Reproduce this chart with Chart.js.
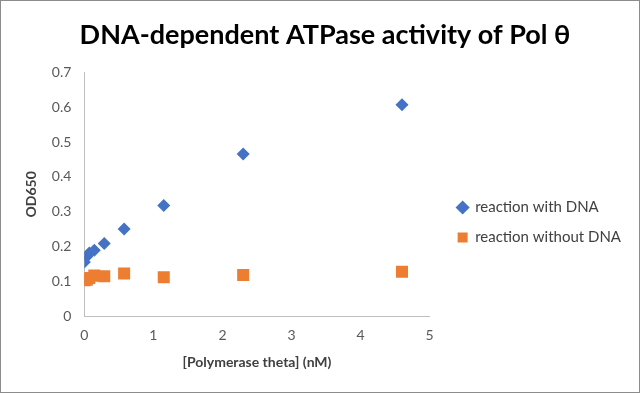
<!DOCTYPE html>
<html><head><meta charset="utf-8">
<script src="https://cdn.jsdelivr.net/npm/chart.js@4"></script>
<style>
html,body{margin:0;padding:0;background:#fff;}
#wrap{position:relative;width:640px;height:393px;box-sizing:border-box;border:1px solid #8c8c8c;}
canvas{display:block;}
</style></head>
<body><div id="wrap"><canvas id="c" width="638" height="391"></canvas></div>
<script>
const concentrations = [0, 0.036, 0.072, 0.144, 0.288, 0.576, 1.15, 2.3, 4.6];
const withDNA = [0.156, 0.172, 0.182, 0.19, 0.209, 0.251, 0.318, 0.466, 0.607];
const withoutDNA = [0.104, 0.105, 0.11, 0.117, 0.115, 0.123, 0.112, 0.119, 0.128];
const seriesNames = ['reaction with DNA', 'reaction without DNA'];
const titleText = 'DNA-dependent ATPase activity of Pol \u03B8';
const xTitle = '[Polymerase theta] (nM)';
const yTitle = 'OD650';

const toPts = (xs, ys) => xs.map((x, i) => ({x: x, y: ys[i]}));
const font = "Lato, 'Open Sans', sans-serif";

function draw() {
  Chart.defaults.font.family = font;
  Chart.defaults.color = '#595959';
  new Chart(document.getElementById('c'), {
    type: 'scatter',
    data: {
      datasets: [
        {label: seriesNames[0], data: toPts(concentrations, withDNA), pointStyle: 'rectRot',
         backgroundColor: '#4472c4', borderColor: '#4472c4', pointRadius: 6.5, borderWidth: 0},
        {label: seriesNames[1], data: toPts(concentrations, withoutDNA), pointStyle: 'rect',
         backgroundColor: '#ed7d31', borderColor: '#ed7d31', pointRadius: 8.5, borderWidth: 0}
      ]
    },
    options: {
      responsive: false,
      animation: false,
      layout: {padding: {left: 18, right: 8, top: 0, bottom: 17}},
      plugins: {
        title: {display: true, text: titleText, color: '#000',
          font: {size: 27, weight: 'bold', family: font}, padding: {top: 18, bottom: 21}},
        legend: {position: 'right', align: 'center', maxWidth: 260,
          title: {display: true, text: ' ', font: {size: 10}, padding: {top: 57, bottom: 0}},
          labels: {usePointStyle: true, boxWidth: 10, boxHeight: 10, padding: 15,
            color: '#404040', font: {size: 15, family: font}}},
        tooltip: {enabled: false}
      },
      scales: {
        x: {type: 'linear', min: 0, max: 5,
          ticks: {stepSize: 1, color: '#595959', font: {size: 14}, padding: 6},
          grid: {display: false, drawTicks: true, tickLength: 5, tickColor: '#bfbfbf'},
          border: {color: '#bfbfbf'},
          title: {display: true, text: xTitle, color: '#404040', font: {size: 14, weight: 'bold'}, padding: {top: 4}}},
        y: {type: 'linear', min: 0, max: 0.7,
          ticks: {stepSize: 0.1, color: '#595959', font: {size: 14}, padding: 8,
            callback: v => Math.round(v * 10) / 10},
          grid: {display: false, drawTicks: true, tickLength: 5, tickColor: '#bfbfbf'},
          border: {color: '#bfbfbf'},
          title: {display: true, text: yTitle, color: '#404040', font: {size: 14, weight: 'bold'}, padding: {bottom: 4}}},
        gap: {type: 'linear', position: 'right', min: 0, max: 1,
          ticks: {display: false}, grid: {display: false}, border: {display: false},
          afterFit: s => { s.width = 13; }}
      }
    }
  });
}
Promise.all([
  document.fonts.load("bold 27px Lato"),
  document.fonts.load("14px Lato"),
  document.fonts.load("15px Lato"),
  document.fonts.load("bold 14px Lato")
]).then(draw, draw);
</script></body></html>
